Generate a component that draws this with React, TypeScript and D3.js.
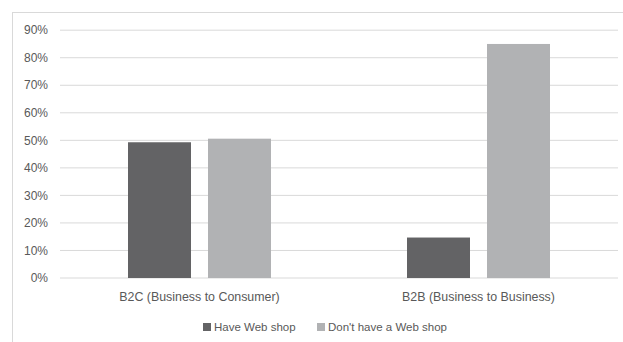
import React from "react";
import * as d3 from "d3";

const categories = ["B2C (Business to Consumer)", "B2B (Business to Business)"];
const seriesNames = ["Have Web shop", "Don't have a Web shop"];
const haveWebShop = [49.3, 14.7];
const noWebShop = [50.6, 85.0];
const yTicks = [0, 10, 20, 30, 40, 50, 60, 70, 80, 90];
const colors = ["#636365", "#b1b2b4"];

const W = 623;
const H = 342;
const FONT = "'Liberation Sans', Arial, sans-serif";

export default function App() {
  const left = 60, right = 618, top = 30.2, bottom = 278;
  const x0 = d3.scaleBand<string>().domain(categories).range([left, right]).paddingInner(0).paddingOuter(0);
  const x1 = d3.scaleBand<string>().domain(seriesNames).range([0, x0.bandwidth()]).paddingInner(0.2125).paddingOuter(0.85);
  const y = d3.scaleLinear().domain([0, 90]).range([bottom, top]);
  const series = [haveWebShop, noWebShop];

  return (
    <svg width={W} height={H} style={{ position: "absolute", left: 0, top: 0, display: "block" }}>
      <rect x={12.5} y={12.5} width={W} height={H} fill="#fff" stroke="#d9d9d9" strokeWidth={1} />
      {yTicks.map((t) => (
        <g key={t}>
          <line x1={left} x2={right} y1={y(t)} y2={y(t)} stroke="#d9d9d9" strokeWidth={1} />
          <text x={48} y={y(t)} dy="0.35em" textAnchor="end" fontFamily={FONT} fontSize={12} fill="#595959">
            {t}%
          </text>
        </g>
      ))}
      {categories.map((c, ci) => (
        <g key={c} transform={`translate(${x0(c)},0)`}>
          {seriesNames.map((s, si) => (
            <rect
              key={s}
              x={x1(s)}
              width={x1.bandwidth()}
              y={y(series[si][ci])}
              height={bottom - y(series[si][ci])}
              fill={colors[si]}
            />
          ))}
          <text x={x0.bandwidth() / 2} y={297} dy="0.35em" textAnchor="middle" fontFamily={FONT} fontSize={12.4} fill="#595959">
            {c}
          </text>
        </g>
      ))}
      <g>
        <rect x={203} y={323} width={8} height={8} fill={colors[0]} />
        <text x={214} y={327} dy="0.35em" fontFamily={FONT} fontSize={11.5} fill="#595959">{seriesNames[0]}</text>
        <rect x={317} y={323} width={8} height={8} fill={colors[1]} />
        <text x={328} y={327} dy="0.35em" fontFamily={FONT} fontSize={11.5} fill="#595959">{seriesNames[1]}</text>
      </g>
    </svg>
  );
}
